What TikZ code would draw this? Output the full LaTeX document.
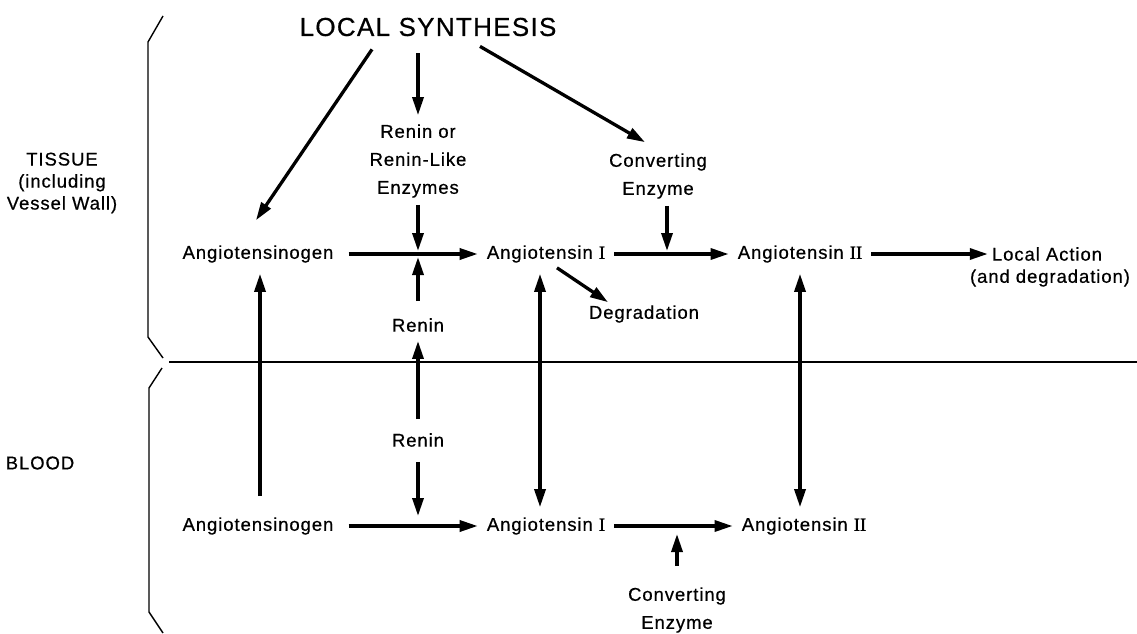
\documentclass[tikz,border=0pt]{standalone}
\usepackage{fontspec}
\setmainfont{Liberation Sans}[LetterSpace=5, FakeBold=0.6]
\newfontfamily\numfont{Liberation Serif}[FakeBold=1.2]
\usetikzlibrary{arrows.meta}

\tikzset{
    lbl/.style={font=\fontsize{18.5}{28}\selectfont, align=center, inner sep=1pt},
    big/.style={font=\fontsize{26}{28}\selectfont, inner sep=1pt},
    flow/.style={line width=3.3pt, -{Triangle[length=18pt,width=11pt]}},
    both/.style={line width=3.3pt, {Triangle[length=18pt,width=11pt]}-{Triangle[length=18pt,width=11pt]}},
    rule/.style={line width=1.4pt},
}

\begin{document}
\begin{tikzpicture}[x=1pt, y=-1pt]
    \useasboundingbox (0,0) rectangle (1137,634);

    % labels
    \node[big] (synth) at (428,27) {LOCAL SYNTHESIS};
    \node[lbl, font=\fontsize{18.5}{22}\selectfont] (tissue) at (62,183) {TISSUE\\(including\\Vessel Wall)};
    \node[lbl] (blood) at (40,463) {BLOOD};

    \node[lbl] (renlike) at (418,161) {Renin or\\Renin-Like\\Enzymes};
    \node[lbl] (tconv) at (658,176) {Converting\\Enzyme};

    \node[lbl] (tgen) at (258,254) {Angiotensinogen};
    \node[lbl] (tang1) at (546,254) {Angiotensin {\numfont I}};
    \node[lbl] (tang2) at (800,254) {Angiotensin {\numfont II}};
    \node[lbl] (action) at (1047,254) {Local Action};
    \node[lbl] (actnote) at (1050,278) {(and degradation)};
    \node[lbl] (degr) at (644,314) {Degradation};

    \node[lbl] (renT) at (418,325) {Renin};
    \node[lbl] (renB) at (418,440) {Renin};

    \node[lbl] (bgen) at (258,526) {Angiotensinogen};
    \node[lbl] (bang1) at (546,526) {Angiotensin {\numfont I}};
    \node[lbl] (bang2) at (804,526) {Angiotensin {\numfont II}};
    \node[lbl] (bconv) at (677,610) {Converting\\Enzyme};

    \coordinate (j1) at (418,254);
    \coordinate (j2) at (667,254);
    \coordinate (j3) at (418,526);
    \coordinate (j4) at (677,526);

    % braces and the dividing line
    \draw[rule] (163,16) -- (148,42) -- (148,337) -- (163,358);
    \draw[rule] (162,368) -- (149,388) -- (149,612) -- (163,633);
    \coordinate (cut) at (169,362);
    \draw[rule] (cut) -- (1137,362);

    % tissue
    \draw[flow] ([xshift=-56pt,yshift=-12pt]synth.south) -- ([xshift=-2pt,yshift=24pt]tgen.north);
    \draw[flow] ([xshift=-10pt,yshift=-16pt]synth.south) -- ([yshift=8pt]renlike.north);
    \draw[flow] ([xshift=52pt,yshift=-9pt]synth.south) -- ([xshift=-13pt,yshift=10pt]tconv.north);

    \draw[flow, shorten <=14pt, shorten >=8pt] (tgen.east) -- (tang1.west);
    \draw[flow, shorten <=6pt, shorten >=3pt] (renlike.south) -- (j1);
    \draw[flow, shorten <=16pt, shorten >=3pt] (renT.north) -- (j1);
    \draw[flow, shorten <=8pt, shorten >=8pt] (tang1.east) -- (tang2.west);
    \draw[flow, shorten <=6pt, shorten >=3pt] ([xshift=9pt]tconv.south) -- (j2);
    \draw[flow, shorten <=8pt, shorten >=3pt] (tang2.east) -- (action.west);
    \draw[flow] ([xshift=11pt,yshift=-4pt]tang1.south) -- ([xshift=-36pt,yshift=2pt]degr.north);

    % blood
    \draw[flow, shorten <=13pt, shorten >=8pt] (renB.north) -- (renT.south);
    \draw[flow, shorten <=14pt, shorten >=10pt] (renB.south) -- (j3);
    \draw[flow, shorten <=20pt, shorten >=10pt] ([xshift=2pt]bgen.north) -- ([xshift=2pt]tgen.south);
    \draw[both, shorten <=10pt, shorten >=9pt] ([xshift=-6pt]tang1.south) -- ([xshift=-6pt]bang1.north);
    \draw[both, shorten <=10pt, shorten >=9pt] (tang2.south) -- ([xshift=-4pt]bang2.north);
    \draw[flow, shorten <=14pt, shorten >=8pt] (bgen.east) -- (bang1.west);
    \draw[flow, shorten <=8pt, shorten >=8pt] (bang1.east) -- (bang2.west);
    \draw[flow, shorten <=20pt, shorten >=8pt] (bconv.north) -- (j4);
\end{tikzpicture}
\end{document}
